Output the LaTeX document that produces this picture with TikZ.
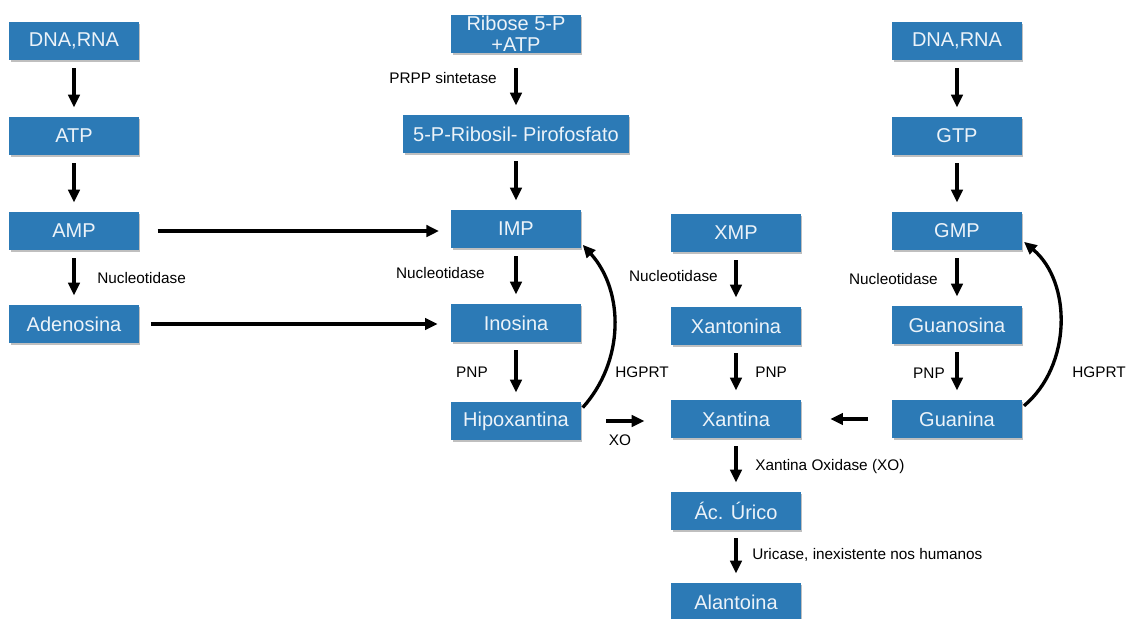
\documentclass[tikz,border=0pt]{standalone}
\usepackage{fontspec}
\setmainfont{Liberation Sans}
\usetikzlibrary{
    arrows.meta,
    positioning,
    shadows
}
\definecolor{boxblue}{RGB}{44,122,182}
\definecolor{boxtext}{RGB}{236,243,249}

\begin{document}
\begin{tikzpicture}[
        x=0.75pt, y=-0.75pt,
        block/.style={fill=boxblue, text=boxtext, minimum width=97pt, minimum height=28.5pt, inner sep=0pt, align=center,
            font=\fontsize{15}{13.5}\selectfont,
            drop shadow={shadow xshift=1.3pt, shadow yshift=-1.8pt, opacity=0.45, fill=black!55}},
        arrow/.style={-{Triangle[length=9.5pt, width=8.5pt]}, line width=2.5pt, shorten <=6pt, shorten >=7pt},
        lbl/.style={font=\fontsize{11.5}{13}\selectfont, inner sep=0pt}
    ]
        \path[use as bounding box, fill=white] (0,0) rectangle (1127,618);

        % Adenine column
        \node[block] (dnaA) at (74,41) {DNA,RNA};
        \node[block] (atp) at (74,136) {ATP};
        \node[block] (amp) at (74,231) {AMP};
        \node[block] (adenosina) at (74,324) {Adenosina};

        % Inosine column
        \node[block, font=\fontsize{15}{15.5}\selectfont] (ribose) at (516,34) {Ribose 5-P\\+ATP};
        \node[block, minimum width=169pt] (prpp) at (516,134) {5-P-Ribosil- Pirofosfato};
        \node[block] (imp) at (516,229) {IMP};
        \node[block] (inosina) at (516,323) {Inosina};
        \node[block] (hipox) at (516,421) {Hipoxantina};

        % Xanthine column
        \node[block] (xmp) at (736,233) {XMP};
        \node[block] (xantonina) at (736,326) {Xantonina};
        \node[block] (xantina) at (736,419) {Xantina};
        \node[block] (urico) at (736,511) {Ác. Úrico};
        \node[block] (alantoina) at (736,602) {Alantoina};

        % Guanine column
        \node[block] (dnaG) at (957,41) {DNA,RNA};
        \node[block] (gtp) at (957,136) {GTP};
        \node[block] (gmp) at (957,231) {GMP};
        \node[block] (guanosina) at (957,325) {Guanosina};
        \node[block] (guanina) at (957,419) {Guanina};

        % Vertical arrows
        \draw[arrow] (dnaA) -- (atp);
        \draw[arrow] (atp) -- (amp);
        \draw[arrow] (amp) -- (adenosina);
        \draw[arrow, shorten <=11pt] (ribose) -- (prpp);
        \draw[arrow] (prpp) -- (imp);
        \draw[arrow] (imp) -- (inosina);
        \draw[arrow] (inosina) -- (hipox);
        \draw[arrow] (xmp) -- (xantonina);
        \draw[arrow] (xantonina) -- (xantina);
        \draw[arrow] (xantina) -- (urico);
        \draw[arrow] (urico) -- (alantoina);
        \draw[arrow] (dnaG) -- (gtp);
        \draw[arrow] (gtp) -- (gmp);
        \draw[arrow] (gmp) -- (guanosina);
        \draw[arrow] (guanosina) -- (guanina);

        % Horizontal arrows
        \draw[arrow, shorten <=14pt, shorten >=9pt] (amp.east) -- (amp.east -| imp.west);
        \draw[arrow, shorten <=9pt, shorten >=10pt] (adenosina.east) -- (adenosina.east -| inosina.west);
        \draw[arrow, shorten <=19pt, shorten >=20pt] (hipox.east) -- (hipox.east -| xantina.west);
        \draw[arrow, shorten <=18pt, shorten >=22pt] (guanina.west) -- (guanina.west -| xantina.east);

        % Salvage arrows
        \draw[arrow, shorten <=2pt, shorten >=2pt] (hipox.10) to[bend right=42] (imp.-12);
        \draw[arrow, shorten <=2pt, shorten >=2pt] (guanina.10) to[bend right=50] (gmp.-8);

        % Enzyme labels
        \node[lbl, anchor=east] (lprpp) at (497,78) {PRPP sintetase};
        \node[lbl, anchor=west] (lnucA) at (97,278) {Nucleotidase};
        \node[lbl, anchor=east] (lnucI) at (485,273) {Nucleotidase};
        \node[lbl, anchor=east] (lnucX) at (718,276) {Nucleotidase};
        \node[lbl, anchor=east] (lnucG) at (938,279) {Nucleotidase};
        \node[lbl, anchor=east] (lpnpI) at (488,372) {PNP};
        \node[lbl, anchor=west] (lpnpX) at (755,372) {PNP};
        \node[lbl, anchor=east] (lpnpG) at (945,373) {PNP};
        \node[lbl, anchor=west] (lhgA) at (615,372) {HGPRT};
        \node[lbl, anchor=west] (lhgG) at (1072,372) {HGPRT};
        \node[lbl] (lxo) at (620,440) {XO};
        \node[lbl, anchor=west] (lxod) at (755,467) {Xantina Oxidase (XO)};
        \node[lbl, anchor=west] (luric) at (752,555) {Uricase, inexistente nos humanos};
    \end{tikzpicture}
\end{document}
